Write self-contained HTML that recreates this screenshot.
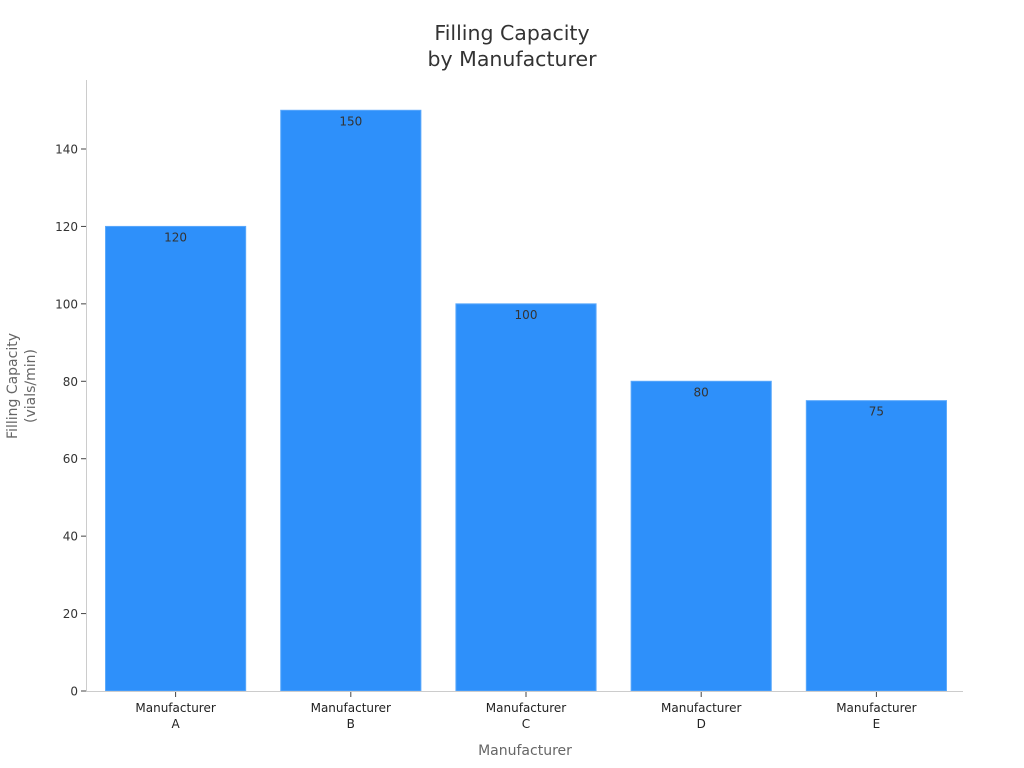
<!DOCTYPE html>
<html><head><meta charset="utf-8">
<style>
html,body{margin:0;padding:0;background:#fff;}
svg{display:block;font-family:"DejaVu Sans","Liberation Sans",sans-serif;}
</style></head>
<body>
<svg id="chart" width="1024" height="768" viewBox="0 0 1024 768">
  <text x="512" y="40" text-anchor="middle" font-size="20.5" fill="#333">Filling Capacity</text>
  <text x="512" y="66" text-anchor="middle" font-size="20.5" fill="#333">by Manufacturer</text>
  <g id="plot"></g>
  <line x1="86.5" y1="80" x2="86.5" y2="692" stroke="#ccc"/>
  <line x1="86" y1="691.5" x2="963" y2="691.5" stroke="#ccc"/>
  <text transform="translate(17,386) rotate(-90)" text-anchor="middle" font-size="14" fill="#666">Filling Capacity</text>
  <text transform="translate(35,386) rotate(-90)" text-anchor="middle" font-size="14" fill="#666">(vials/min)</text>
  <text x="525" y="755" text-anchor="middle" font-size="14" fill="#666">Manufacturer</text>
</svg>
<script>
const categories = ["A","B","C","D","E"];
const values = [120,150,100,80,75];
const yTicks = [0,20,40,60,80,100,120,140];

const NS = "http://www.w3.org/2000/svg";
const plot = document.getElementById("plot");
const x0 = 88, x1 = 964, y0 = 691, pxPerUnit = (691 - 149) / 140;
const band = (x1 - x0) / categories.length;
const yScale = v => y0 - v * pxPerUnit;
const xCenter = i => x0 + band * (i + 0.5);
function mk(tag, attrs, text) {
  const e = document.createElementNS(NS, tag);
  for (const k in attrs) e.setAttribute(k, attrs[k]);
  if (text !== undefined) e.textContent = text;
  plot.appendChild(e);
  return e;
}
yTicks.forEach(t => {
  const y = yScale(t);
  const l = mk("line", {x1: 81, x2: 86, y1: y, y2: y, stroke: "#444"});
  
  
  const tx = mk("text", {x: 78, y: y + 4.5, "text-anchor": "end", "font-size": 12, fill: "#333"}, t);
  
  
});
const bw = band * 0.8;
categories.forEach((c, i) => {
  const cx = xCenter(i), top = yScale(values[i]);
  const r = mk("rect", {x: cx - bw / 2, y: top, width: bw, height: y0 - top, fill: "#2e90fa", stroke: "#5aa8fb", "stroke-width": 1});
  
  
  const v = mk("text", {x: cx, y: top + 15, "text-anchor": "middle", "font-size": 12, fill: "#333"}, values[i]);
  
  
  const tm = mk("line", {x1: cx, x2: cx, y1: 692, y2: 697, stroke: "#444"});
  
  
  const l1 = mk("text", {x: cx, y: 712, "text-anchor": "middle", "font-size": 12, fill: "#222"}, "Manufacturer");
  
  
  const l2 = mk("text", {x: cx, y: 728, "text-anchor": "middle", "font-size": 12, fill: "#222"}, c);
  
  
});
</script>
</body></html>
